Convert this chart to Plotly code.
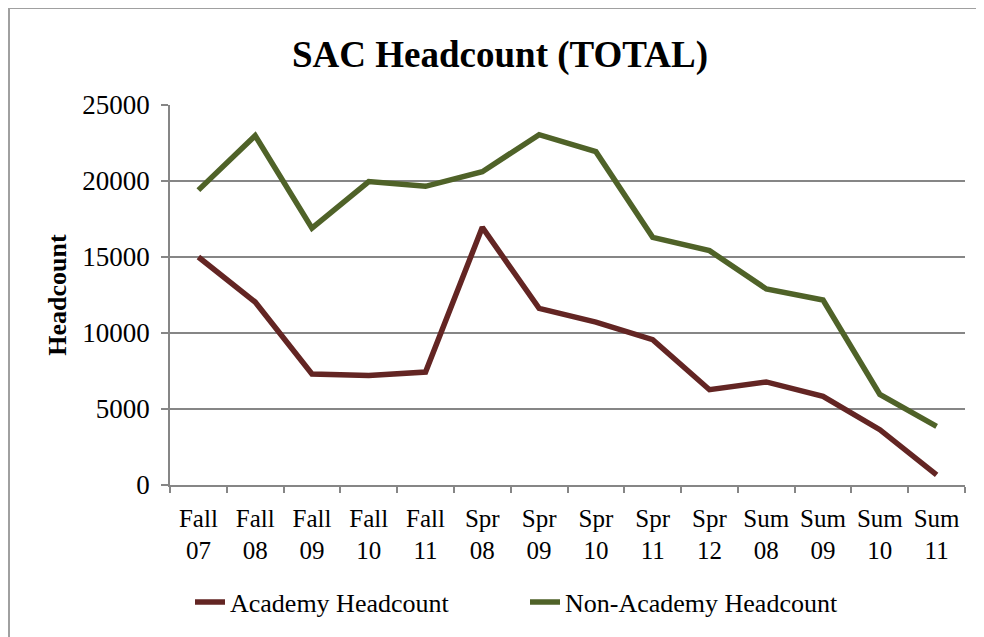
import plotly.graph_objects as go

categories = ["Fall<br>07", "Fall<br>08", "Fall<br>09", "Fall<br>10", "Fall<br>11",
              "Spr<br>08", "Spr<br>09", "Spr<br>10", "Spr<br>11", "Spr<br>12",
              "Sum<br>08", "Sum<br>09", "Sum<br>10", "Sum<br>11"]
academy = [15000, 12040, 7300, 7210, 7430, 16950, 11620, 10720, 9560, 6270, 6780, 5830, 3640, 660]
non_academy = [19400, 22980, 16900, 19960, 19650, 20610, 23050, 21930, 16290, 15420, 12900, 12170, 5960, 3860]
y_ticks = [0, 5000, 10000, 15000, 20000, 25000]
y_tick_text = ["0", "5000", "10000", "15000", "20000", "25000"]

# page is offset by the 8px body margin, so work in page coords and subtract
OFF = 8
W, H = 984 - OFF, 637 - OFF
L, R, T, B = 170 - OFF, 965 - OFF, 105 - OFF, 485 - OFF

fig = go.Figure()
fig.add_trace(go.Scatter(x=categories, y=academy, mode="lines", name="Academy Headcount",
                         line=dict(color="#632523", width=5.5)))
fig.add_trace(go.Scatter(x=categories, y=non_academy, mode="lines", name="Non-Academy Headcount",
                         line=dict(color="#4F6228", width=5.5)))

font = "Liberation Serif, Times New Roman, serif"
pw, ph = R - L, B - T

def px(x):
    return (x - OFF - L) / pw

def py(y):
    return (B - (y - OFF)) / ph

fig.update_layout(
    width=W, height=H,
    margin=dict(l=L, r=W - R, t=T, b=H - B),
    paper_bgcolor="white", plot_bgcolor="white",
    font=dict(family=font, color="black"),
    title=dict(text="<b>SAC Headcount (TOTAL)</b>", x=(500 - OFF) / W, xanchor="center",
               y=1 - (54 - OFF) / H, yanchor="middle", font=dict(size=37, family=font)),
    showlegend=True,
    legend=dict(orientation="h", x=px(190), xanchor="left", y=py(602), yanchor="middle",
                font=dict(size=26, family=font), bgcolor="rgba(0,0,0,0)",
                itemwidth=30, entrywidth=290),
    xaxis=dict(type="category", tickson="boundaries", ticks="outside", ticklen=6,
               tickcolor="#868686", tickwidth=1.5, showline=True, linecolor="#868686",
               linewidth=1.5, showgrid=False, tickfont=dict(size=25, family=font),
               ticklabelstandoff=10, range=[-0.5, 13.5]),
    yaxis=dict(range=[0, 25000], tickvals=y_ticks, ticktext=y_tick_text, ticks="outside", ticklen=7,
               tickcolor="#868686", tickwidth=1.5, showline=True, linecolor="#868686",
               linewidth=1.5, showgrid=True, gridcolor="#868686", gridwidth=1.5,
               tickfont=dict(size=27, family=font), zeroline=False, ticklabelstandoff=6,
               title=dict(text="<b>Headcount</b>", font=dict(size=26, family=font), standoff=8)),
    shapes=[dict(type="rect", xref="paper", yref="paper",
                 x0=px(9), x1=px(1010), y0=py(700), y1=py(8),
                 line=dict(color="#A0A0A0", width=2), fillcolor="rgba(0,0,0,0)", layer="below")],
)

fig.write_html("out.html")
